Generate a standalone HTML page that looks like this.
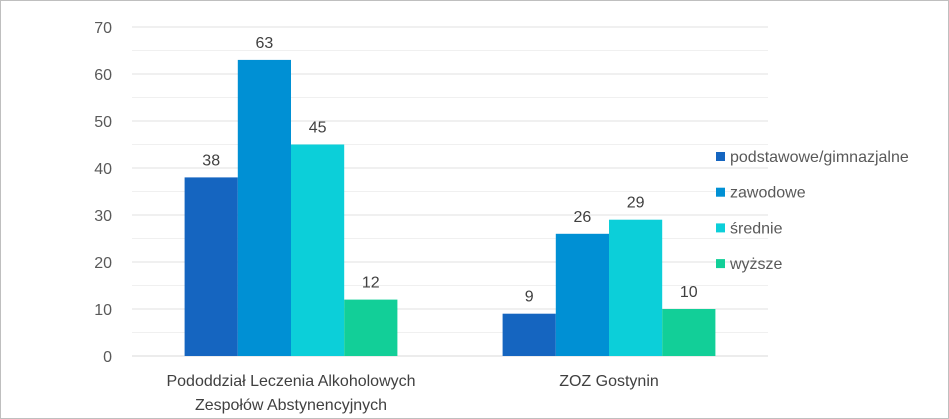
<!DOCTYPE html>
<html><head><meta charset="utf-8"><style>
body{margin:0;background:#fff}
svg{display:block;font-family:"Liberation Sans",sans-serif}
</style></head><body>
<svg width="949" height="419" viewBox="0 0 949 419" xmlns="http://www.w3.org/2000/svg">
<rect x="0.5" y="0.5" width="948" height="418" fill="#fff" stroke="#bfbfbf"/>
<g id="grid"></g><g id="bars"></g><g id="labels"></g><g id="legend"></g>
</svg>
<script>
const categories=["Pododdział Leczenia Alkoholowych|Zespołów Abstynencyjnych","ZOZ Gostynin"];
const seriesNames=["podstawowe/gimnazjalne","zawodowe","średnie","wyższe"];
const seriesColors=["#1565c0","#0090d4","#0ccfd9","#12cf98"];
const s1=[38,9];
const s2=[63,26];
const s3=[45,29];
const s4=[12,10];
const yTicks=[0,10,20,30,40,50,60,70];
const series=[s1,s2,s3,s4];
const NS="http://www.w3.org/2000/svg";
const x0=132,x1=768,y0=356,y1=27,yMax=70;
const y=v=>y0-(v/yMax)*(y0-y1);
const catW=(x1-x0)/categories.length;
const barW=53.2;
function mk(t,a,p){const e=document.createElementNS(NS,t);for(const k in a)e.setAttribute(k,a[k]);p.appendChild(e);return e;}
const grid=document.getElementById('grid'),bars=document.getElementById('bars'),labels=document.getElementById('labels'),legend=document.getElementById('legend');
for(let i=0;i<yTicks.length-1;i++){const v=(yTicks[i]+yTicks[i+1])/2;
 const m=mk('line',{x1:x0,x2:x1,y1:y(v),y2:y(v),stroke:'#f0f0f0'},grid);
 }
yTicks.forEach(t=>{
 const l=mk('line',{x1:x0,x2:x1,y1:y(t),y2:y(t),stroke:t===0?'#d9d9d9':'#e0e0e0'},grid);
 
 const tx=mk('text',{x:112,y:y(t)+6,'text-anchor':'end','font-size':16,fill:'#595959'},labels);
 tx.textContent=t;
});
categories.forEach((c,ci)=>{
 const cx=x0+catW*(ci+0.5);const start=cx-barW*series.length/2;
 series.forEach((s,si)=>{
  const bx=start+si*barW;
  const r=mk('rect',{x:bx,y:y(s[ci]),width:barW,height:y0-y(s[ci]),fill:seriesColors[si]},bars);
  
  const t=mk('text',{x:bx+barW/2,y:y(s[ci])-12,'text-anchor':'middle','font-size':16,fill:'#404040'},labels);
  t.textContent=s[ci];
 });
 c.split('|').forEach((line,li)=>{
  const t=mk('text',{x:cx,y:386+li*24,'text-anchor':'middle','font-size':16,fill:'#404040'},labels);
  t.textContent=line;
 });
});
seriesNames.forEach((n,i)=>{
 const ly=157+i*35.7;
 const r=mk('rect',{x:716,y:ly-5,width:9,height:9,fill:seriesColors[i]},legend);
 
 const t=mk('text',{x:730,y:ly+5,'font-size':16,fill:'#595959'},legend);
 t.textContent=n;
});
</script>
</body></html>
